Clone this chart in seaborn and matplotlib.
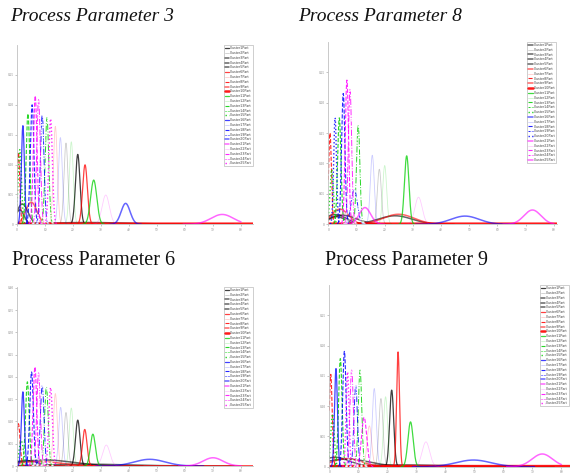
import numpy as np
import pandas as pd
import matplotlib
matplotlib.use("Agg")
import matplotlib.pyplot as plt
import seaborn as sns

TITLES = ["Process Parameter 3", "Process Parameter 8", "Process Parameter 6", "Process Parameter 9"]
LABELS = [f"Cluster{i}Part" for i in range(1, 26)]
XTICKS = [0, 1, 2, 3, 4, 5, 6, 7, 8]
XTICK_LABELS = ["0", "10", "20", "30", "40", "50", "60", "70", "80"]

# peak centre / width / height per cluster (Cluster1..25)
PP3_MU = [2.17, 1.75, 0.19, 0.10, 2.5,   2.43, 1.37, 0.05, 0.51, 4.0,   2.74, 1.94, 0.39, 1.07, 0.10,
          0.21, 1.55, 0.54, 0.90, 3.88,  7.33, 3.17, 0.65, 0.77, 1.20]
PP3_SD = [0.08, 0.07, 0.20, 0.15, 1.5,   0.085, 0.07, 0.05, 0.20, 30,   0.11, 0.07, 0.065, 0.065, 0.06,
          0.055, 0.07, 0.065, 0.065, 0.16, 0.40, 0.13, 0.065, 0.065, 0.065]
PP3_PK = [2.34, 2.72, 0.68, 0.48, 0.06,  1.99, 3.28, 2.40, 0.74, 0.02,  1.48, 2.76, 3.70, 3.57, 2.50,
          3.30, 2.90, 4.00, 3.67, 0.70,  0.33, 0.98, 4.30, 4.17, 3.53]

PP8_MU = [0.24, 1.81, 2.37, 0.50, 0.30,  2.49, 0.60, 0.06, 0.41, 4.0,   2.78, 2.00, 0.39, 1.06, 0.12,
          4.85, 1.56, 0.53, 0.92, 0.24,  7.24, 3.20, 0.66, 0.77, 1.30]
PP8_SD = [0.40, 0.07, 0.60, 0.50, 0.30,  0.55, 0.40, 0.05, 0.30, 30,    0.08, 0.07, 0.06, 0.06, 0.06,
          0.50, 0.07, 0.06, 0.11, 0.05,  0.30, 0.13, 0.06, 0.06, 0.20]
PP8_PK = [0.32, 1.81, 0.28, 0.30, 0.25,  0.33, 0.35, 3.00, 0.50, 0.02,  2.25, 1.93, 3.50, 3.27, 1.80,
          0.27, 2.27, 4.30, 1.15, 3.50,  0.47, 0.89, 4.74, 4.43, 0.55]

PP6_MU = [2.17, 1.75, 1.00, 0.30, 2.5,   2.42, 1.37, 0.05, 0.80, 4.0,   2.71, 1.94, 0.37, 1.05, 0.15,
          0.21, 1.56, 0.52, 0.90, 4.74,  7.00, 3.19, 0.64, 0.77, 1.20]
PP6_SD = [0.08, 0.07, 1.00, 0.40, 1.5,   0.08, 0.07, 0.06, 0.80, 30,    0.09, 0.07, 0.065, 0.065, 0.08,
          0.055, 0.07, 0.065, 0.065, 0.55, 0.35, 0.13, 0.065, 0.065, 0.065]
PP6_PK = [2.06, 2.40, 0.27, 0.25, 0.08,  1.64, 3.25, 1.90, 0.20, 0.02,  1.43, 2.60, 3.78, 3.55, 1.13,
          3.33, 2.63, 4.22, 3.63, 0.30,  0.37, 0.94, 4.45, 4.18, 3.52]

PP9_MU = [2.15, 1.78, 0.20, 0.60, 2.5,   2.37, 1.38, 0.05, 0.60, 4.0,   2.80, 1.94, 0.38, 1.06, 0.11,
          0.23, 1.55, 0.52, 0.91, 4.97,  7.34, 3.33, 1.20, 0.77, 0.63]
PP9_SD = [0.07, 0.07, 0.50, 0.80, 1.5,   0.05, 0.08, 0.05, 0.50, 30,    0.09, 0.07, 0.06, 0.06, 0.06,
          0.05, 0.07, 0.06, 0.06, 0.60,  0.35, 0.13, 0.09, 0.06, 0.05]
PP9_PK = [2.53, 2.25, 0.31, 0.25, 0.06,  3.79, 1.35, 3.05, 0.27, 0.02,  1.48, 2.31, 3.57, 3.19, 1.74,
          3.24, 2.58, 3.81, 2.69, 0.22,  0.42, 0.82, 1.63, 3.19, 3.13]

PANELS = [(PP3_MU, PP3_SD, PP3_PK), (PP8_MU, PP8_SD, PP8_PK),
          (PP6_MU, PP6_SD, PP6_PK), (PP9_MU, PP9_SD, PP9_PK)]

COLORS = ["#000000", "#ff0000", "#00d000", "#0000ff", "#ff00ff"]
STYLES = [dict(linestyle="-", lw=0.9, alpha=0.75),
          dict(linestyle="-", lw=0.6, alpha=0.2),
          dict(linestyle="--", lw=0.8, alpha=0.85),
          dict(linestyle="-.", lw=0.7, alpha=0.85, marker="x", markersize=1.2, markevery=12),
          dict(linestyle=":", lw=1.0, alpha=0.85)]

sns.set_style("white")
plt.rcParams["font.family"] = ["Liberation Serif", "DejaVu Serif"]

fig = plt.figure(figsize=(5.7, 4.76), dpi=100)

# axes rectangles in pixels: left, top, right, bottom
boxes = [(17, 45, 253, 224.3), (328.3, 41.7, 556.7, 224.3),
         (17, 286.7, 253, 466), (329.3, 285, 573, 466.7)]
xmaxs = [8.43, 8.1, 8.43, 8.4]
ymaxs = [6, 6, 8.05, 6]
W, H = 570.0, 476.0

for p, (mu, sd, pk) in enumerate(PANELS):
    l, t, r, b = boxes[p]
    ax = fig.add_axes([l / W, 1 - b / H, (r - l) / W, (b - t) / H])
    for i in range(25):
        st = dict(STYLES[i % 5])
        lo = max(0, mu[i] - 3.5 * sd[i])
        hi = min(mu[i] + 3.5 * sd[i], 8.0)
        if sd[i] > 5:
            # flat curve lying on the x axis
            lo, hi = 0, xmaxs[p]
            st.update(linestyle="-", lw=1.8, alpha=0.9)
        elif sd[i] > 0.14 and i % 5 != 1:
            # broad bumps read as solid lines in the picture
            st.update(linestyle="-", lw=1.1, alpha=0.6)
            st.pop("marker", None)
            st.pop("markersize", None)
            st.pop("markevery", None)
        xs = np.linspace(lo, hi, 200)
        ys = pk[i] * np.exp(-0.5 * ((xs - mu[i]) / sd[i]) ** 2)
        lw = st.pop("lw")
        sns.lineplot(x=xs, y=ys, ax=ax, color=COLORS[i // 5], lw=lw, label=LABELS[i],
                     estimator=None, sort=False, **st)
    ax.set_xlim(0, xmaxs[p])
    ax.set_ylim(0, ymaxs[p])
    ax.set_xticks(XTICKS)
    ax.set_xticklabels(XTICK_LABELS)
    yt = list(range(1, int(ymaxs[p]) + (0 if ymaxs[p] == 6 else 1)))
    ax.set_yticks([0] + yt)
    ax.set_yticklabels(["0"] + [f"{0.05 * k:.2f}" for k in yt])
    ax.tick_params(labelsize=2.5, labelcolor="#888888", length=1.5, width=0.4,
                   color="#999999", pad=1, left=True, bottom=True)
    sns.despine(ax=ax)
    for s in ["left", "bottom"]:
        ax.spines[s].set_color("#c0c0c0")
        ax.spines[s].set_linewidth(0.6)
    ax.set_xlabel("")
    ax.set_ylabel("")
    if p == 3:
        # last legend is pinned to the figure edge so it stays inside the picture
        anchor = ((569.5 - l) / (r - l), 1)
    else:
        anchor = (1, 1)
    leg = ax.legend(loc="upper right", bbox_to_anchor=anchor, borderaxespad=0.1,
                    fontsize=2.3, handlelength=1.3, handletextpad=0.3, labelspacing=0.25,
                    borderpad=0.3, frameon=True, fancybox=False)
    leg.get_frame().set_edgecolor("#aaaaaa")
    leg.get_frame().set_linewidth(0.5)
    for txt in leg.get_texts():
        txt.set_family(["DejaVu Sans"])
        txt.set_color("#444444")

fig.text(10 / W, 1 - 21 / H, TITLES[0], fontsize=14, style="italic", color="#111111")
fig.text(298 / W, 1 - 21 / H, TITLES[1], fontsize=14, style="italic", color="#111111")
fig.text(12 / W, 1 - 265 / H, TITLES[2], fontsize=14.5, color="#111111")
fig.text(325 / W, 1 - 265 / H, TITLES[3], fontsize=14.5, color="#111111")

fig.savefig("out.png", dpi=100)
